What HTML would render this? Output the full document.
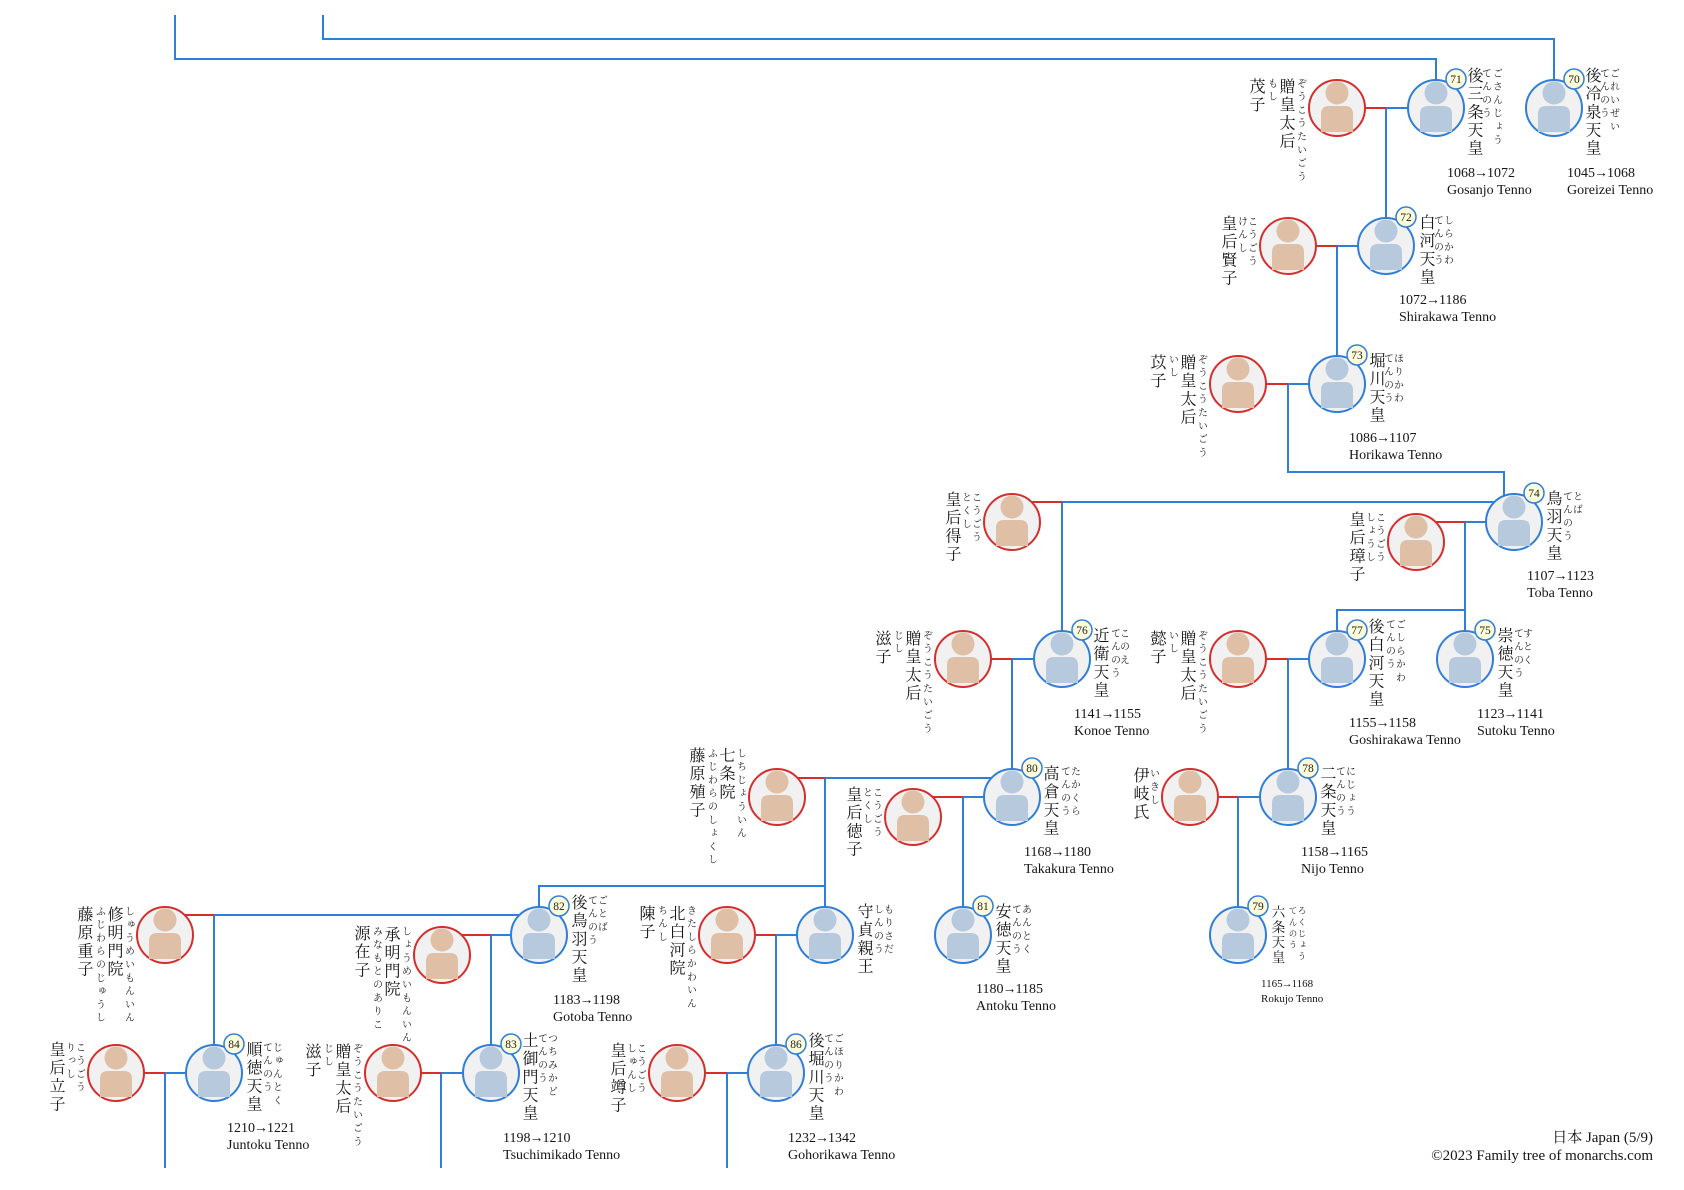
<!DOCTYPE html>
<html><head><meta charset="utf-8">
<style>
html,body{margin:0;padding:0;background:#fff;}
#c{position:relative;width:1684px;height:1190px;overflow:hidden;background:#fff;}
svg{position:absolute;left:0;top:0;}
.n,.f,.m,.g{position:absolute;writing-mode:vertical-rl;font-family:"Noto Serif CJK JP","Noto Serif CJK SC","Liberation Serif",serif;color:#151515;white-space:nowrap;}
.n{font-size:16px;line-height:20px;letter-spacing:2.1px;}
.f{font-size:10px;line-height:11px;letter-spacing:3.3px;}
.m{font-size:13.5px;line-height:17px;letter-spacing:1.6px;}
.g{font-size:8.5px;line-height:10px;letter-spacing:2.9px;}
.d{position:absolute;font-family:"Liberation Serif",serif;font-size:14px;line-height:17px;color:#151515;white-space:nowrap;}
.ds{position:absolute;font-family:"Liberation Serif",serif;font-size:11px;line-height:15px;color:#151515;white-space:nowrap;}
.a{margin:0 -1px;}
.ft{position:absolute;right:31px;top:1129px;font-family:"Liberation Serif","Noto Serif CJK JP",serif;font-size:15px;line-height:18px;text-align:right;color:#151515;white-space:nowrap;}
</style></head><body><div id="c">
<svg width="1684" height="1190" viewBox="0 0 1684 1190" xmlns="http://www.w3.org/2000/svg">
<defs>
<g id="bm"><circle r="28" fill="#f1f1f1" stroke="#2f7ed8" stroke-width="2"/><circle cy="-15" r="11.5" fill="#b7c9dd"/><path d="M-16 24V6Q-16 -2 -8 -2H8Q16 -2 16 6V24Z" fill="#b7c9dd"/></g>
<g id="rf"><circle r="28" fill="#f1f1f1" stroke="#d62d2d" stroke-width="2"/><circle cy="-15" r="11.5" fill="#dfbfa6"/><path d="M-16 24V6Q-16 -2 -8 -2H8Q16 -2 16 6V24Z" fill="#dfbfa6"/></g>
<circle id="bd" r="10" fill="#fdfbd9" stroke="#2f7ed8" stroke-width="1.5"/>
</defs>
<g fill="none" stroke="#2f7ed8" stroke-width="2">
<path d="M175 15V59H1436V108"/>
<path d="M323 15V39H1554V108"/>
<path d="M1386 108H1436M1386 108V246"/>
<path d="M1337 246H1386M1337 246V384"/>
<path d="M1288 384H1337M1288 384V472H1504V522"/>
<path d="M1514 502H1062V659"/>
<path d="M1465 522H1514M1465 522V610H1337V659M1465 610V659"/>
<path d="M1012 659H1062M1012 659V797"/>
<path d="M1288 659H1337M1288 659V797"/>
<path d="M1238 797H1288M1238 797V935"/>
<path d="M1012 778H825V935M825 886H539V935"/>
<path d="M963 797H1012M963 797V935"/>
<path d="M539 915H214V1073"/>
<path d="M491 935H539M491 935V1073"/>
<path d="M776 935H825M776 935V1073"/>
<path d="M165 1073H214M165 1073V1168"/>
<path d="M441 1073H491M441 1073V1168"/>
<path d="M727 1073H776M727 1073V1168"/>
</g>
<g fill="none" stroke="#d62d2d" stroke-width="2">
<path d="M1337 108H1386"/>
<path d="M1288 246H1337"/>
<path d="M1238 384H1288"/>
<path d="M1012 502H1062"/>
<path d="M1416 522H1465"/>
<path d="M963 659H1012"/>
<path d="M1238 659H1288"/>
<path d="M777 778H825"/>
<path d="M913 797H963"/>
<path d="M1190 797H1238"/>
<path d="M165 915H214"/>
<path d="M442 935H491"/>
<path d="M727 935H776"/>
<path d="M116 1073H165"/>
<path d="M393 1073H441"/>
<path d="M677 1073H727"/>
</g>
<use href="#bm" x="1554" y="108"/>
<use href="#bm" x="1436" y="108"/>
<use href="#bm" x="1386" y="246"/>
<use href="#bm" x="1337" y="384"/>
<use href="#bm" x="1514" y="522"/>
<use href="#bm" x="1465" y="659"/>
<use href="#bm" x="1062" y="659"/>
<use href="#bm" x="1337" y="659"/>
<use href="#bm" x="1288" y="797"/>
<use href="#bm" x="1238" y="935"/>
<use href="#bm" x="1012" y="797"/>
<use href="#bm" x="963" y="935"/>
<use href="#bm" x="825" y="935"/>
<use href="#bm" x="539" y="935"/>
<use href="#bm" x="491" y="1073"/>
<use href="#bm" x="214" y="1073"/>
<use href="#bm" x="776" y="1073"/>
<use href="#rf" x="1337" y="108"/>
<use href="#rf" x="1288" y="246"/>
<use href="#rf" x="1238" y="384"/>
<use href="#rf" x="1012" y="522"/>
<use href="#rf" x="1416" y="542"/>
<use href="#rf" x="963" y="659"/>
<use href="#rf" x="1238" y="659"/>
<use href="#rf" x="777" y="797"/>
<use href="#rf" x="913" y="817"/>
<use href="#rf" x="1190" y="797"/>
<use href="#rf" x="165" y="935"/>
<use href="#rf" x="442" y="955"/>
<use href="#rf" x="727" y="935"/>
<use href="#rf" x="116" y="1073"/>
<use href="#rf" x="393" y="1073"/>
<use href="#rf" x="677" y="1073"/>
<use href="#bd" x="1574" y="79"/>
<use href="#bd" x="1456" y="79"/>
<use href="#bd" x="1406" y="217"/>
<use href="#bd" x="1357" y="355"/>
<use href="#bd" x="1534" y="493"/>
<use href="#bd" x="1485" y="630"/>
<use href="#bd" x="1082" y="630"/>
<use href="#bd" x="1357" y="630"/>
<use href="#bd" x="1308" y="768"/>
<use href="#bd" x="1258" y="906"/>
<use href="#bd" x="1032" y="768"/>
<use href="#bd" x="983" y="906"/>
<use href="#bd" x="559" y="906"/>
<use href="#bd" x="511" y="1044"/>
<use href="#bd" x="234" y="1044"/>
<use href="#bd" x="796" y="1044"/>
<g font-family="Liberation Serif, serif" font-size="11.5" fill="#222" text-anchor="middle">
<text x="1574" y="83">70</text>
<text x="1456" y="83">71</text>
<text x="1406" y="221">72</text>
<text x="1357" y="359">73</text>
<text x="1534" y="497">74</text>
<text x="1485" y="634">75</text>
<text x="1082" y="634">76</text>
<text x="1357" y="634">77</text>
<text x="1308" y="772">78</text>
<text x="1258" y="910">79</text>
<text x="1032" y="772">80</text>
<text x="983" y="910">81</text>
<text x="559" y="910">82</text>
<text x="511" y="1048">83</text>
<text x="234" y="1048">84</text>
<text x="796" y="1048">86</text>
</g>
</svg>

<!-- Emperors -->
<div class="n" style="left:1583px;top:67px">後冷泉天皇</div><div class="f" style="left:1599.5px;top:68px">てんのう</div><div class="f" style="left:1609.5px;top:68px">ごれいぜい</div>
<div class="d" style="left:1567px;top:165px">1045<span class="a">→</span>1068<br>Goreizei Tenno</div>

<div class="n" style="left:1465px;top:67px">後三条天皇</div><div class="f" style="left:1481.5px;top:68px">てんのう</div><div class="f" style="left:1492.5px;top:68px">ごさんじょう</div>
<div class="d" style="left:1447px;top:165px">1068<span class="a">→</span>1072<br>Gosanjo Tenno</div>

<div class="n" style="left:1417px;top:214px">白河天皇</div><div class="f" style="left:1433.5px;top:215px">てんのう</div><div class="f" style="left:1443.5px;top:215px">しらかわ</div>
<div class="d" style="left:1399px;top:292px">1072<span class="a">→</span>1186<br>Shirakawa Tenno</div>

<div class="n" style="left:1367px;top:352px">堀川天皇</div><div class="f" style="left:1383.5px;top:353px">てんのう</div><div class="f" style="left:1393.5px;top:353px">ほりかわ</div>
<div class="d" style="left:1349px;top:430px">1086<span class="a">→</span>1107<br>Horikawa Tenno</div>

<div class="n" style="left:1544px;top:490px">鳥羽天皇</div><div class="f" style="left:1562.5px;top:491px">てんのう</div><div class="f" style="left:1572.5px;top:491px">とば</div>
<div class="d" style="left:1527px;top:568px">1107<span class="a">→</span>1123<br>Toba Tenno</div>

<div class="n" style="left:1495px;top:627px">崇徳天皇</div><div class="f" style="left:1513.5px;top:628px">てんのう</div><div class="f" style="left:1522.5px;top:628px">すとく</div>
<div class="d" style="left:1477px;top:706px">1123<span class="a">→</span>1141<br>Sutoku Tenno</div>

<div class="n" style="left:1091px;top:627px">近衛天皇</div><div class="f" style="left:1110.5px;top:628px">てんのう</div><div class="f" style="left:1119.5px;top:628px">このえ</div>
<div class="d" style="left:1074px;top:706px">1141<span class="a">→</span>1155<br>Konoe Tenno</div>

<div class="n" style="left:1366px;top:618px">後白河天皇</div><div class="f" style="left:1385.5px;top:619px">てんのう</div><div class="f" style="left:1395.5px;top:619px">ごしらかわ</div>
<div class="d" style="left:1349px;top:715px">1155<span class="a">→</span>1158<br>Goshirakawa Tenno</div>

<div class="n" style="left:1318px;top:765px">二条天皇</div><div class="f" style="left:1335.5px;top:766px">てんのう</div><div class="f" style="left:1345.5px;top:766px">にじょう</div>
<div class="d" style="left:1301px;top:844px">1158<span class="a">→</span>1165<br>Nijo Tenno</div>

<div class="m" style="left:1269.5px;top:905px">六条天皇</div><div class="g" style="left:1288px;top:906px">てんのう</div><div class="g" style="left:1297px;top:906px">ろくじょう</div>
<div class="ds" style="left:1261px;top:977px">1165<span class="a">→</span>1168<br>Rokujo Tenno</div>

<div class="n" style="left:1041px;top:765px">高倉天皇</div><div class="f" style="left:1060.5px;top:766px">てんのう</div><div class="f" style="left:1070.5px;top:766px">たかくら</div>
<div class="d" style="left:1024px;top:844px">1168<span class="a">→</span>1180<br>Takakura Tenno</div>

<div class="n" style="left:993px;top:903px">安徳天皇</div><div class="f" style="left:1011.5px;top:904px">てんのう</div><div class="f" style="left:1021.5px;top:904px">あんとく</div>
<div class="d" style="left:976px;top:981px">1180<span class="a">→</span>1185<br>Antoku Tenno</div>

<div class="n" style="left:855px;top:903px">守貞親王</div><div class="f" style="left:873.5px;top:904px">しんのう</div><div class="f" style="left:883.5px;top:904px">もりさだ</div>

<div class="n" style="left:569px;top:894px">後鳥羽天皇</div><div class="f" style="left:587.5px;top:895px">てんのう</div><div class="f" style="left:597.5px;top:895px">ごとば</div>
<div class="d" style="left:553px;top:992px">1183<span class="a">→</span>1198<br>Gotoba Tenno</div>

<div class="n" style="left:520px;top:1032px">土御門天皇</div><div class="f" style="left:537.5px;top:1033px">てんのう</div><div class="f" style="left:547.5px;top:1033px">つちみかど</div>
<div class="d" style="left:503px;top:1130px">1198<span class="a">→</span>1210<br>Tsuchimikado Tenno</div>

<div class="n" style="left:244px;top:1041px">順徳天皇</div><div class="f" style="left:262.5px;top:1042px">てんのう</div><div class="f" style="left:272.5px;top:1042px">じゅんとく</div>
<div class="d" style="left:227px;top:1120px">1210<span class="a">→</span>1221<br>Juntoku Tenno</div>

<div class="n" style="left:806px;top:1032px">後堀川天皇</div><div class="f" style="left:823.5px;top:1033px">てんのう</div><div class="f" style="left:833.5px;top:1033px">ごほりかわ</div>
<div class="d" style="left:788px;top:1130px">1232<span class="a">→</span>1342<br>Gohorikawa Tenno</div>

<!-- Wives -->
<div class="f" style="left:1296.5px;top:78px">ぞうこうたいごう</div><div class="n" style="left:1277px;top:78px">贈皇太后</div><div class="f" style="left:1267.5px;top:78px">もし</div><div class="n" style="left:1247px;top:78px">茂子</div>

<div class="f" style="left:1247.5px;top:216px">こうごう</div><div class="f" style="left:1237.5px;top:216px">けんし</div><div class="n" style="left:1219px;top:215px">皇后賢子</div>

<div class="f" style="left:1197.5px;top:354px">ぞうこうたいごう</div><div class="n" style="left:1178px;top:354px">贈皇太后</div><div class="f" style="left:1168.5px;top:354px">いし</div><div class="n" style="left:1148px;top:354px">苡子</div>

<div class="f" style="left:971.5px;top:492px">こうごう</div><div class="f" style="left:961.5px;top:492px">とくし</div><div class="n" style="left:943px;top:491px">皇后得子</div>

<div class="f" style="left:1375.5px;top:512px">こうごう</div><div class="f" style="left:1365.5px;top:512px">しょうし</div><div class="n" style="left:1347px;top:511px">皇后璋子</div>

<div class="f" style="left:922.5px;top:630px">ぞうこうたいごう</div><div class="n" style="left:903px;top:630px">贈皇太后</div><div class="f" style="left:893.5px;top:630px">じし</div><div class="n" style="left:873px;top:630px">滋子</div>

<div class="f" style="left:1197.5px;top:630px">ぞうこうたいごう</div><div class="n" style="left:1178px;top:630px">贈皇太后</div><div class="f" style="left:1168.5px;top:630px">いし</div><div class="n" style="left:1148px;top:630px">懿子</div>

<div class="f" style="left:736.5px;top:748px">しちじょういん</div><div class="n" style="left:717px;top:747px">七条院</div><div class="f" style="left:707.5px;top:748px">ふじわらのしょくし</div><div class="n" style="left:687px;top:747px">藤原殖子</div>

<div class="f" style="left:872.5px;top:787px">こうごう</div><div class="f" style="left:862.5px;top:787px">とくし</div><div class="n" style="left:844px;top:786px">皇后徳子</div>

<div class="f" style="left:1149.5px;top:768px">いきし</div><div class="n" style="left:1131px;top:767px">伊岐氏</div>

<div class="f" style="left:124.5px;top:906px">しゅうめいもんいん</div><div class="n" style="left:105px;top:906px">修明門院</div><div class="f" style="left:95.5px;top:906px">ふじわらのじゅうし</div><div class="n" style="left:75px;top:906px">藤原重子</div>

<div class="f" style="left:401.5px;top:926px">しょうめいもんいん</div><div class="n" style="left:382px;top:926px">承明門院</div><div class="f" style="left:372.5px;top:926px">みなもとのありこ</div><div class="n" style="left:352px;top:925px">源在子</div>

<div class="f" style="left:686.5px;top:905px">きたしらかわいん</div><div class="n" style="left:667px;top:905px">北白河院</div><div class="f" style="left:657.5px;top:905px">ちんし</div><div class="n" style="left:637px;top:905px">陳子</div>

<div class="f" style="left:75.5px;top:1042px">こうごう</div><div class="f" style="left:65.5px;top:1042px">りっし</div><div class="n" style="left:47px;top:1041px">皇后立子</div>

<div class="f" style="left:352.5px;top:1043px">ぞうこうたいごう</div><div class="n" style="left:333px;top:1043px">贈皇太后</div><div class="f" style="left:323.5px;top:1043px">じし</div><div class="n" style="left:303px;top:1043px">滋子</div>

<div class="f" style="left:636.5px;top:1043px">こうごう</div><div class="f" style="left:626.5px;top:1043px">しゅんし</div><div class="n" style="left:608px;top:1042px">皇后竴子</div>

<div class="ft">日本 Japan (5/9)<br>©2023 Family tree of monarchs.com</div>
</div></body></html>
